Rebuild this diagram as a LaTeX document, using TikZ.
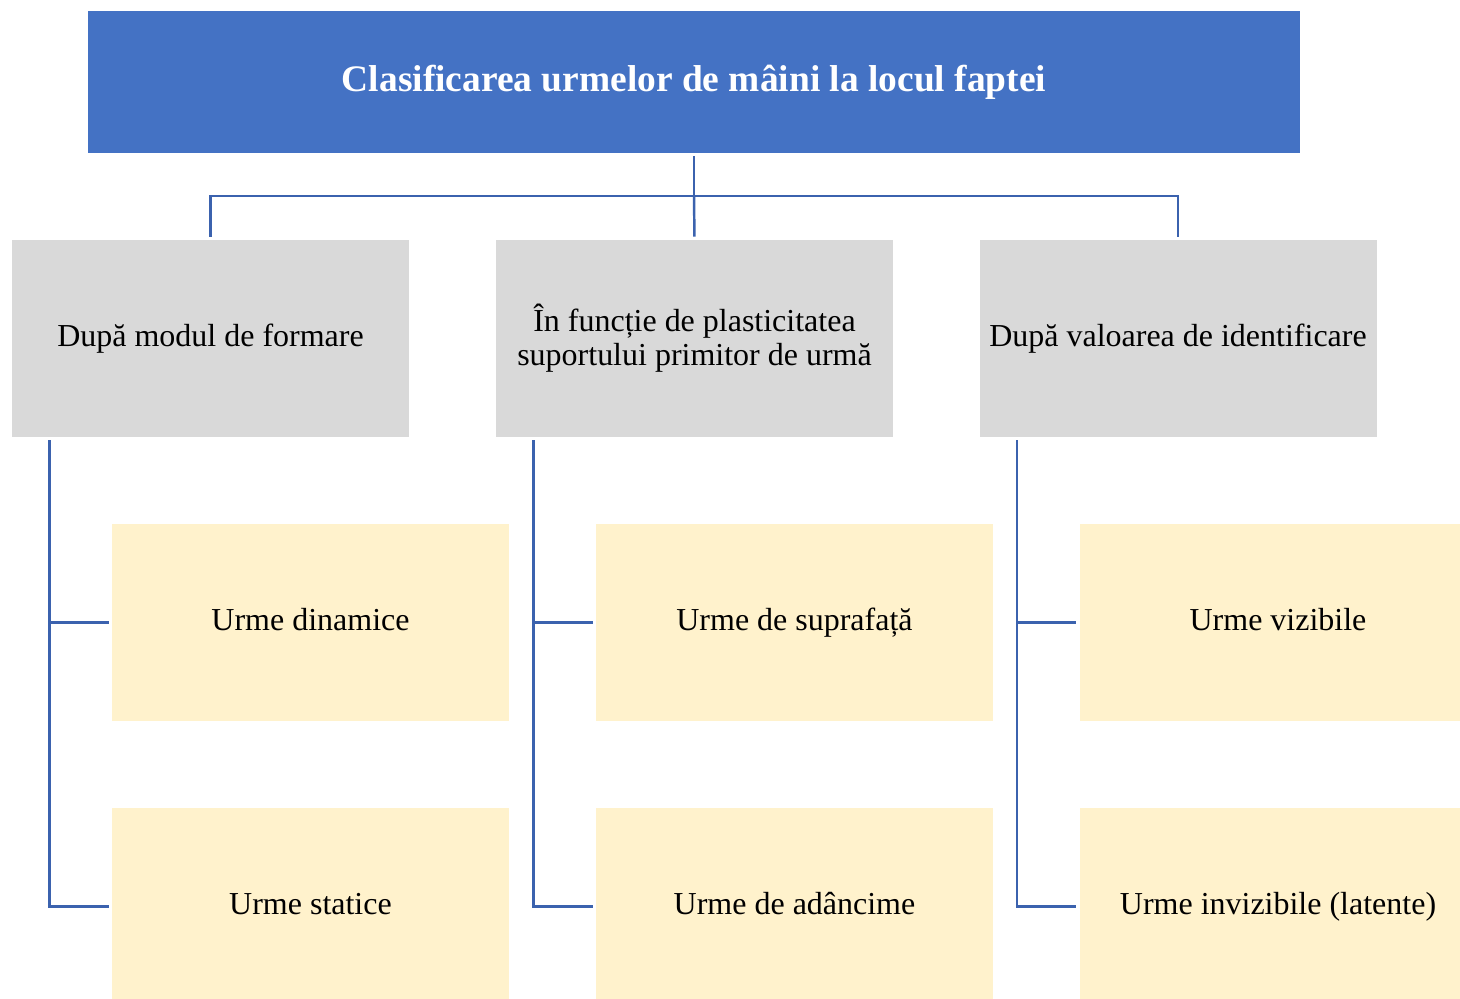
\documentclass[tikz,border=0pt]{standalone}
\usepackage{fontspec}
\setmainfont{Liberation Serif}
\usetikzlibrary{positioning}

\definecolor{titlublue}{HTML}{4472C4}
\definecolor{liniablue}{HTML}{3B62AE}
\definecolor{grigio}{HTML}{D9D9D9}
\definecolor{galben}{HTML}{FFF2CC}

\tikzset{
  titlu/.style={fill=titlublue,text=white,font=\fontsize{21.3}{23}\selectfont\bfseries,
    minimum width=24.24cm,minimum height=2.84cm,inner sep=0pt},
  criteriu/.style={fill=grigio,font=\fontsize{18.2}{19.2}\selectfont,align=center,
    minimum width=7.94cm,minimum height=3.94cm,inner sep=0pt},
  tip/.style={fill=galben,font=\fontsize{18.2}{19.2}\selectfont,
    text height=2.2ex,text depth=.3ex,
    minimum width=7.94cm,minimum height=3.94cm,inner sep=0pt},
  conn/.style={draw=liniablue,line width=1.4pt,shorten <=0.06cm,shorten >=0.06cm}
}

\begin{document}
\begin{tikzpicture}

\useasboundingbox (0,0) rectangle (29.2,-19.98);
\clip (0,0) rectangle (29.2,-19.98);

% Titlu
\node[titlu] (titlu) at (13.88,-1.64)
{Clasificarea urmelor de mâini la locul faptei};

% Criterii
\node[criteriu] (formare) at (4.21,-6.77)
{După modul de formare};
\node[criteriu] (plast) at (13.89,-6.77)
{În funcție de plasticitatea\\suportului primitor de urmă};
\node[criteriu] (valoare) at (23.56,-6.77)
{După valoarea de identificare};

% Tipuri de urme
\node[tip] (dinamice) at (6.21,-12.45) {Urme dinamice};
\node[tip] (statice) at (6.21,-18.13) {Urme statice};
\node[tip] (suprafata) at (15.89,-12.45) {Urme de suprafață};
\node[tip] (adancime) at (15.89,-18.13) {Urme de adâncime};
\node[tip] (vizibile) at (25.56,-12.45) {Urme vizibile};
\node[tip] (invizibile) at (25.56,-18.13) {Urme invizibile (latente)};

% Legaturi de sus
\coordinate (bara) at (13.88,-3.92);
\draw[conn,shorten >=0pt] (titlu.south) -- (bara);
\draw[conn,shorten <=0pt] (bara) -| (formare.north);
\draw[conn,shorten <=0pt] (bara) -- (plast.north);
\draw[conn,shorten <=0pt] (bara) -| (valoare.north);

% Legaturi laterale
\draw[conn] ([xshift=0.76cm]formare.south west) |- (dinamice.west);
\draw[conn] ([xshift=0.76cm]formare.south west) |- (statice.west);
\draw[conn] ([xshift=0.76cm]plast.south west) |- (suprafata.west);
\draw[conn] ([xshift=0.76cm]plast.south west) |- (adancime.west);
\draw[conn] ([xshift=0.76cm]valoare.south west) |- (vizibile.west);
\draw[conn] ([xshift=0.76cm]valoare.south west) |- (invizibile.west);

\end{tikzpicture}
\end{document}
